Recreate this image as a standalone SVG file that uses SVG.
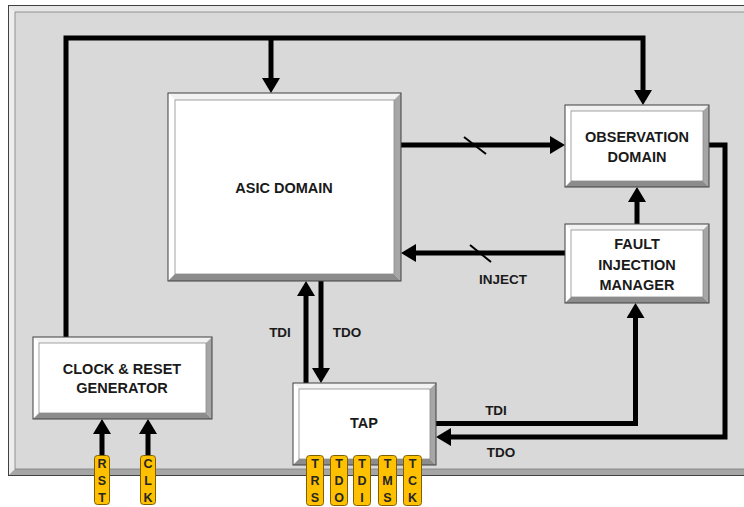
<svg xmlns="http://www.w3.org/2000/svg" width="744" height="507" viewBox="0 0 744 507">
<defs>
<style>
.lt{fill:#ffffff}
.tp{fill:#f2f2f2}
.dk{fill:#a6a6a6}
.bt{fill:#8c8c8c}
.ol{fill:none;stroke:#404040;stroke-width:1}
.il{fill:#ffffff;stroke:#8c8c8c;stroke-width:0.8}
.lbl{font-family:"Liberation Sans",Arial,sans-serif;font-weight:bold;font-size:14.5px;fill:#1a1a1a;text-anchor:middle}
.cl{font-family:"Liberation Sans",Arial,sans-serif;font-weight:bold;font-size:13.5px;fill:#1a1a1a;text-anchor:middle}
.pin{fill:#ffc000;stroke:#7f6000;stroke-width:1}
.pt{font-family:"Liberation Sans",Arial,sans-serif;font-weight:bold;font-size:12.5px;fill:#262626;text-anchor:middle}
.w{fill:none;stroke:#000;stroke-width:5;stroke-linejoin:miter}
.sl{stroke:#000;stroke-width:2}
</style>
<marker id="ah" viewBox="0 -9 15 18" refX="0" refY="0" markerWidth="15" markerHeight="18" markerUnits="userSpaceOnUse" orient="auto">
<path d="M0,-9 L15,0 L0,9 Z" fill="#000"/>
</marker>
</defs>

<g id="panel">
<rect x="8.5" y="5.5" width="760" height="470" fill="#d9d9d9"/>
<polygon points="8.5,5.5 768.5,5.5 768.5,12 15,12" fill="#e6e6e6"/>
<polygon points="8.5,5.5 15,12 15,469 8.5,475.5" fill="#ededed"/>
<polygon points="8.5,475.5 15,469 768.5,469 768.5,475.5" fill="#a6a6a6"/>
<rect x="8.5" y="5.5" width="760" height="470" class="ol" stroke="#595959"/>
<polyline points="768.5,12 15,12 15,469 768.5,469" fill="none" stroke="#7f7f7f" stroke-width="0.8"/>
</g>

<g id="connectors">
<path class="w" d="M66,337 V38 H643 V90" marker-end="url(#ah)"/>
<path class="w" d="M271,38 V78" marker-end="url(#ah)"/>
<path class="w" d="M401,145 H550" marker-end="url(#ah)"/>
<line class="sl" x1="464" y1="137" x2="486" y2="154"/>
<path class="w" d="M565,253 H416" marker-end="url(#ah)"/>
<line class="sl" x1="470" y1="245" x2="491" y2="262"/>
<path class="w" d="M637,224 V202" marker-end="url(#ah)"/>
<path class="w" d="M306,383 V296" marker-end="url(#ah)"/>
<path class="w" d="M321,281 V368" marker-end="url(#ah)"/>
<path class="w" d="M436,423.5 H635.5 V318" marker-end="url(#ah)"/>
<path class="w" d="M709,145 H725 V437 H451" marker-end="url(#ah)"/>
<path class="w" d="M102,455 V434" marker-end="url(#ah)"/>
<path class="w" d="M148,455 V434" marker-end="url(#ah)"/>
<text class="cl" x="503" y="284">INJECT</text>
<text class="cl" x="280" y="337">TDI</text>
<text class="cl" x="347" y="337">TDO</text>
<text class="cl" x="496" y="415">TDI</text>
<text class="cl" x="501" y="457">TDO</text>
</g>

<g id="asic">
<rect x="168" y="93" width="233" height="188" fill="#fff"/>
<polygon class="tp" points="168,93 401,93 394,100 175,100"/>
<polygon class="lt" points="168,93 175,100 175,274 168,281"/>
<polygon class="dk" points="401,93 401,281 394,274 394,100"/>
<polygon class="bt" points="168,281 175,274 394,274 401,281"/>
<rect class="ol" x="168" y="93" width="233" height="188"/>
<rect class="il" x="175" y="100" width="219" height="174"/>
<text class="lbl" x="284" y="193">ASIC DOMAIN</text>
</g>

<g id="observation">
<rect x="565" y="105" width="144" height="82" fill="#fff"/>
<polygon class="tp" points="565,105 709,105 703,111 571,111"/>
<polygon class="lt" points="565,105 571,111 571,181 565,187"/>
<polygon class="dk" points="709,105 709,187 703,181 703,111"/>
<polygon class="bt" points="565,187 571,181 703,181 709,187"/>
<rect class="ol" x="565" y="105" width="144" height="82"/>
<rect class="il" x="571" y="111" width="132" height="70"/>
<text class="lbl" x="637" y="142">OBSERVATION</text>
<text class="lbl" x="637" y="162">DOMAIN</text>
</g>

<g id="fim">
<rect x="565" y="224" width="144" height="79" fill="#fff"/>
<polygon class="tp" points="565,224 709,224 703,230 571,230"/>
<polygon class="lt" points="565,224 571,230 571,297 565,303"/>
<polygon class="dk" points="709,224 709,303 703,297 703,230"/>
<polygon class="bt" points="565,303 571,297 703,297 709,303"/>
<rect class="ol" x="565" y="224" width="144" height="79"/>
<rect class="il" x="571" y="230" width="132" height="67"/>
<text class="lbl" x="637" y="249">FAULT</text>
<text class="lbl" x="637" y="270">INJECTION</text>
<text class="lbl" x="637" y="290">MANAGER</text>
</g>

<g id="clock">
<rect x="33" y="337" width="179" height="82" fill="#fff"/>
<polygon class="tp" points="33,337 212,337 206,343 39,343"/>
<polygon class="lt" points="33,337 39,343 39,413 33,419"/>
<polygon class="dk" points="212,337 212,419 206,413 206,343"/>
<polygon class="bt" points="33,419 39,413 206,413 212,419"/>
<rect class="ol" x="33" y="337" width="179" height="82"/>
<rect class="il" x="39" y="343" width="167" height="70"/>
<text class="lbl" x="122" y="374">CLOCK &amp; RESET</text>
<text class="lbl" x="122" y="393">GENERATOR</text>
</g>

<g id="tap">
<rect x="293" y="383" width="143" height="82" fill="#fff"/>
<polygon class="tp" points="293,383 436,383 430,389 299,389"/>
<polygon class="lt" points="293,383 299,389 299,459 293,465"/>
<polygon class="dk" points="436,383 436,465 430,459 430,389"/>
<polygon class="bt" points="293,465 299,459 430,459 436,465"/>
<rect class="ol" x="293" y="383" width="143" height="82"/>
<rect class="il" x="299" y="389" width="131" height="70"/>
<text class="lbl" x="364" y="428">TAP</text>
</g>

<g id="pin-rst">
<rect class="pin" x="94.5" y="455.5" width="15" height="49" rx="3"/>
<text class="pt" x="102" y="468">R</text><text class="pt" x="102" y="485">S</text><text class="pt" x="102" y="502">T</text>
</g>
<g id="pin-clk">
<rect class="pin" x="140.5" y="455.5" width="15" height="49" rx="3"/>
<text class="pt" x="148" y="468">C</text><text class="pt" x="148" y="485">L</text><text class="pt" x="148" y="502">K</text>
</g>
<g id="pin-trs">
<rect class="pin" x="306.5" y="455.5" width="17" height="50" rx="3"/>
<text class="pt" x="315" y="468">T</text><text class="pt" x="315" y="485">R</text><text class="pt" x="315" y="502">S</text>
</g>
<g id="pin-tdo">
<rect class="pin" x="330.5" y="455.5" width="17" height="50" rx="3"/>
<text class="pt" x="339" y="468">T</text><text class="pt" x="339" y="485">D</text><text class="pt" x="339" y="502">O</text>
</g>
<g id="pin-tdi">
<rect class="pin" x="353.5" y="455.5" width="17" height="50" rx="3"/>
<text class="pt" x="362" y="468">T</text><text class="pt" x="362" y="485">D</text><text class="pt" x="362" y="502">I</text>
</g>
<g id="pin-tms">
<rect class="pin" x="378.5" y="455.5" width="18" height="50" rx="3"/>
<text class="pt" x="387.5" y="468">T</text><text class="pt" x="387.5" y="485">M</text><text class="pt" x="387.5" y="502">S</text>
</g>
<g id="pin-tck">
<rect class="pin" x="403.5" y="455.5" width="18" height="50" rx="3"/>
<text class="pt" x="412.5" y="468">T</text><text class="pt" x="412.5" y="485">C</text><text class="pt" x="412.5" y="502">K</text>
</g>
</svg>
